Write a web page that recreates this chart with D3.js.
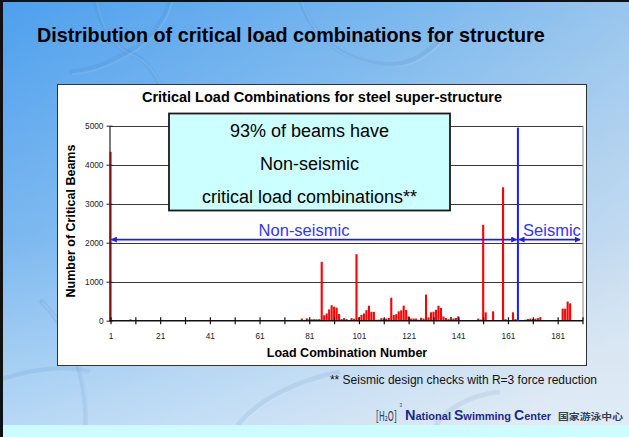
<!DOCTYPE html>
<html>
<head>
<meta charset="utf-8">
<script src="https://cdn.jsdelivr.net/npm/d3@7/dist/d3.min.js"></script>
<style>
  html, body { margin: 0; padding: 0; background: #fff; }
  svg { display: block; }
</style>
</head>
<body>
<svg id="slide" width="629" height="437"></svg>
<script>
// Load combination numbers that govern at least one beam, and the beam counts for each
const comboNumbers = [1, 9, 12, 17, 18, 19, 33, 60, 67, 78, 80, 81, 82, 83, 84, 85, 86, 87, 88, 89, 90,
  91, 92, 93, 94, 95, 96, 98, 99, 100, 101, 102, 103, 104, 105, 106, 107, 108, 109, 110,
  111, 112, 113, 114, 115, 116, 117, 118, 119, 120, 121, 122, 123, 124, 125, 126, 127, 128,
  129, 130, 131, 132, 133, 134, 135, 136, 137, 138, 139, 140, 141, 149, 150, 151, 152, 155,
  159, 160, 163, 164, 168, 169, 170, 171, 172, 173, 174, 183, 184, 185, 186];
const criticalBeams = [4330, 35, 15, 12, 15, 12, 10, 8, 10, 55, 60, 35, 35, 40, 35, 40, 1510, 140, 185, 290, 395,
  360, 335, 170, 40, 65, 40, 65, 50, 1705, 85, 150, 185, 270, 385, 225, 225, 25, 25, 65,
  55, 55, 70, 590, 145, 165, 240, 265, 385, 275, 110, 55, 55, 55, 25, 75, 55, 670,
  85, 215, 230, 280, 385, 325, 110, 70, 40, 95, 55, 70, 110, 55, 30, 2460, 215, 240,
  3420, 40, 215, 40, 25, 45, 55, 45, 50, 65, 90, 310, 310, 490, 445];

// Axis ticks
const xTickValues = d3.range(1, 192, 10);          // 1, 11, ..., 191
const xTickLabels = ["1", "21", "41", "61", "81", "101", "121", "141", "161", "181"];
const yTickValues = [0, 1000, 2000, 3000, 4000, 5000];

// Split between non-seismic and seismic combinations
const seismicStart = 165;
const dividerTop = 4950;
const spanLevel = 2080;
const firstCombo = 1;
const lastCombo = 190;

const calloutLines = ["93% of beams have", "Non-seismic", "critical load combinations**"];

const FONT = "'Liberation Sans', Arial, Helvetica, sans-serif";
const svg = d3.select("#slide");
const W = 629, H = 437;

// ---------- slide background ----------
const defs = svg.append("defs");
const bg = defs.append("linearGradient").attr("id", "bgGrad")
  .attr("x1", "0").attr("y1", "0").attr("x2", "1").attr("y2", "0.75");
bg.append("stop").attr("offset", "0").attr("stop-color", "#4d9fee");
bg.append("stop").attr("offset", "0.45").attr("stop-color", "#7db9ee");
bg.append("stop").attr("offset", "1").attr("stop-color", "#c9dcee");
const haze = defs.append("linearGradient").attr("id", "hazeGrad")
  .attr("x1", "0").attr("y1", "0").attr("x2", "0").attr("y2", "1");
haze.append("stop").attr("offset", "0").attr("stop-color", "#ffffff").attr("stop-opacity", 0);
haze.append("stop").attr("offset", "0.55").attr("stop-color", "#ffffff").attr("stop-opacity", 0.12);
haze.append("stop").attr("offset", "1").attr("stop-color", "#ffffff").attr("stop-opacity", 0.45);

svg.append("rect").attr("width", W).attr("height", H).attr("fill", "url(#bgGrad)");
svg.append("rect").attr("width", W).attr("height", H).attr("fill", "url(#hazeGrad)");

// faint bubble-wall outlines
const bubbles = svg.append("g").attr("fill", "none");
const bubblePaths = [
  "M95,0 C100,25 112,45 128,52 C150,60 160,80 168,110",
  "M128,52 C110,62 95,70 70,72",
  "M170,0 C165,20 150,40 128,52",
  "M300,0 C310,30 330,50 360,60 C400,72 420,60 440,40",
  "M40,300 C70,330 90,380 85,437",
  "M0,380 C30,370 60,365 90,372",
  "M230,437 C250,400 300,380 340,372",
  "M430,437 C440,410 470,395 500,392"
];
bubbles.selectAll("path").data(bubblePaths).join("path")
  .attr("d", d => d)
  .attr("stroke", "#2f6fae").attr("stroke-opacity", 0.1).attr("stroke-width", 5);
bubbles.selectAll("path.hl").data(bubblePaths).join("path").attr("class", "hl")
  .attr("d", d => d)
  .attr("stroke", "#ffffff").attr("stroke-opacity", 0.1).attr("stroke-width", 2)
  .attr("transform", "translate(2,2)");

// dark frame on the left and top
svg.append("rect").attr("x", 0).attr("y", 0).attr("width", 3).attr("height", H).attr("fill", "#111");
svg.append("rect").attr("x", 0).attr("y", 0).attr("width", W).attr("height", 2).attr("fill", "#111");

// bottom band
svg.append("rect").attr("x", 3).attr("y", 425).attr("width", W - 3).attr("height", H - 425).attr("fill", "#ccfcff");

// slide heading
svg.append("text").attr("x", 37).attr("y", 42)
  .attr("font-family", FONT).attr("font-size", 19.8).attr("font-weight", "bold").attr("fill", "#000")
  .text("Distribution of critical load combinations for structure");

// ---------- chart box ----------
svg.append("rect").attr("x", 57.5).attr("y", 84.5).attr("width", 529).attr("height", 281)
  .attr("fill", "#fff").attr("stroke", "#333").attr("stroke-width", 1);

svg.append("text").attr("x", 322).attr("y", 101.5).attr("text-anchor", "middle")
  .attr("font-family", FONT).attr("font-size", 14.5).attr("font-weight", "bold")
  .text("Critical Load Combinations for steel super-structure");

const plot = { left: 109.5, right: 583, top: 125.7, bottom: 320.7 };
const x = d3.scaleLinear().domain([1, 191]).range([110.5, 582.5]);
const y = d3.scaleLinear().domain([0, 5000]).range([plot.bottom, plot.top]);

const g = svg.append("g");

// gridlines
g.append("g").selectAll("line").data(yTickValues.filter(v => v > 0)).join("line")
  .attr("x1", plot.left).attr("x2", plot.right)
  .attr("y1", d => Math.round(y(d)) + 0.5).attr("y2", d => Math.round(y(d)) + 0.5)
  .attr("stroke", "#3a3a3a").attr("stroke-width", 1);
// right border of plot area
g.append("line").attr("x1", plot.right).attr("x2", plot.right)
  .attr("y1", plot.top).attr("y2", plot.bottom)
  .attr("stroke", "#888").attr("stroke-width", 1);

// bars
const bars = comboNumbers.map((c, i) => ({ combo: c, beams: criticalBeams[i] }));
g.append("g").selectAll("rect").data(bars).join("rect")
  .attr("x", d => x(d.combo) - 1)
  .attr("width", 2.1)
  .attr("y", d => y(d.beams))
  .attr("height", d => y(0) - y(d.beams))
  .attr("fill", "#ff0000");

// y axis
const yAxis = d3.axisLeft(y).tickValues(yTickValues).tickSize(0).tickPadding(6).tickFormat(d3.format("d"));
const yg = g.append("g").attr("transform", `translate(${plot.left},0)`).call(yAxis);
yg.select(".domain").attr("stroke", "#222").attr("stroke-width", 1.2);
yg.selectAll("text").attr("font-family", FONT).attr("font-size", 8.3).attr("fill", "#222");
yg.selectAll(".tick").append("line").attr("x1", -3).attr("x2", 3).attr("stroke", "#222");

// x axis
const xAxis = d3.axisBottom(x).tickValues(xTickValues).tickSize(0).tickPadding(12)
  .tickFormat(d => xTickLabels.includes(String(d)) ? String(d) : "");
const xg = g.append("g").attr("transform", `translate(0,${plot.bottom})`).call(xAxis);
xg.select(".domain").attr("d", `M${plot.left},0H${plot.right}`).attr("stroke", "#111").attr("stroke-width", 1.6);
xg.selectAll("text").attr("font-family", FONT).attr("font-size", 8.3).attr("fill", "#222");
xg.selectAll(".tick").append("line").attr("y1", -3.5).attr("y2", 3.5).attr("stroke", "#111").attr("stroke-width", 1.2);

// axis titles
svg.append("text").attr("x", 347).attr("y", 357)
  .attr("text-anchor", "middle").attr("font-family", FONT).attr("font-size", 12.5).attr("font-weight", "bold")
  .text("Load Combination Number");
svg.append("text").attr("transform", "translate(75,221) rotate(-90)")
  .attr("text-anchor", "middle").attr("font-family", FONT).attr("font-size", 12.5).attr("font-weight", "bold")
  .text("Number of Critical Beams");

// ---------- non-seismic / seismic split ----------
const BLUE = "#1a1aff";
defs.append("marker").attr("id", "arrowHead").attr("viewBox", "0 0 10 10")
  .attr("refX", 9).attr("refY", 5).attr("markerWidth", 6).attr("markerHeight", 6)
  .attr("orient", "auto-start-reverse").attr("markerUnits", "userSpaceOnUse")
  .append("path").attr("d", "M0,0L10,5L0,10z").attr("fill", BLUE);

g.append("line")
  .attr("x1", x(seismicStart)).attr("x2", x(seismicStart))
  .attr("y1", y(0)).attr("y2", y(dividerTop))
  .attr("stroke", BLUE).attr("stroke-width", 2);

const spans = [
  { from: firstCombo + 0.4, to: seismicStart - 0.5, label: "Non-seismic" },
  { from: seismicStart + 0.5, to: lastCombo, label: "Seismic" }
];
g.selectAll("line.span").data(spans).join("line").attr("class", "span")
  .attr("x1", d => x(d.from)).attr("x2", d => x(d.to))
  .attr("y1", y(spanLevel)).attr("y2", y(spanLevel))
  .attr("stroke", BLUE).attr("stroke-width", 1.6)
  .attr("marker-start", "url(#arrowHead)").attr("marker-end", "url(#arrowHead)");

g.append("text").attr("x", 304).attr("y", y(spanLevel) - 4)
  .attr("text-anchor", "middle").attr("font-family", FONT).attr("font-size", 16.5).attr("fill", "#3333ff")
  .text(spans[0].label);
g.append("text").attr("x", 552).attr("y", y(spanLevel) - 4)
  .attr("text-anchor", "middle").attr("font-family", FONT).attr("font-size", 16.5).attr("fill", "#3333ff")
  .text(spans[1].label);

// callout box
svg.append("rect").attr("x", 169).attr("y", 113.5).attr("width", 281).attr("height", 97)
  .attr("fill", "#ccffff").attr("stroke", "#1a1a1a").attr("stroke-width", 1.8);
svg.append("g").selectAll("text").data(calloutLines).join("text")
  .attr("x", 309.5).attr("y", (d, i) => 136.5 + i * 33.3)
  .attr("text-anchor", "middle").attr("font-family", FONT).attr("font-size", 18).attr("fill", "#000")
  .text(d => d);

// ---------- footnote and logo ----------
svg.append("text").attr("x", 597).attr("y", 384)
  .attr("text-anchor", "end").attr("font-family", FONT).attr("font-size", 12).attr("fill", "#111")
  .text("** Seismic design checks with R=3 force reduction");

const logo = svg.append("g");
// tall, narrow [H2O] emblem: small type stretched vertically
logo.append("text").attr("transform", "translate(376,421) scale(1,1.6)")
  .attr("font-family", "'DejaVu Sans Condensed', 'DejaVu Sans', sans-serif").attr("font-size", 8.5)
  .attr("fill", "#3a3f55")
  .text("[H₂O]");
logo.append("text").attr("x", 399.5).attr("y", 406.5)
  .attr("font-family", FONT).attr("font-size", 4.5).attr("fill", "#3a3f55").text("3");

// wordmark with enlarged initials
const mark = logo.append("text").attr("x", 405).attr("y", 420)
  .attr("font-family", FONT).attr("font-weight", "bold").attr("fill", "#1d2a8c");
[["N", 14.5], ["ational ", 11], ["S", 14], ["wimming ", 11], ["C", 14], ["enter", 11]]
  .forEach(([t, s]) => mark.append("tspan").attr("font-size", s).text(t));

logo.append("text").attr("x", 558).attr("y", 419.5)
  .attr("font-family", "'Noto Sans CJK SC', sans-serif").attr("font-size", 9.5).attr("font-weight", "bold")
  .attr("fill", "#3a3f55").attr("textLength", 65).attr("lengthAdjust", "spacingAndGlyphs")
  .text("国家游泳中心");
</script>
</body>
</html>
